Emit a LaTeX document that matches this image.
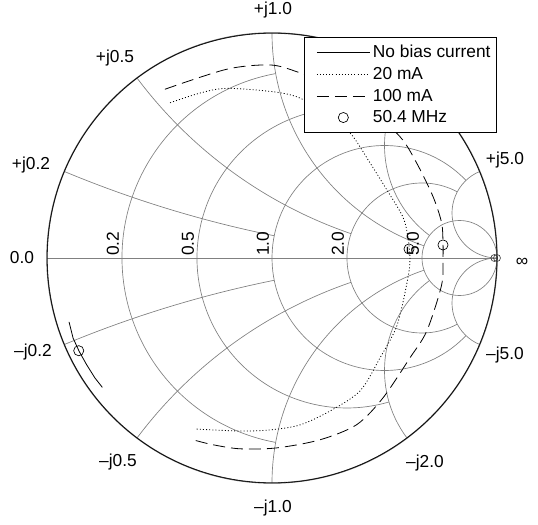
\documentclass[border=0pt]{standalone}
\usepackage{pgfplots}
\pgfplotsset{compat=1.18}
\usepgfplotslibrary{smithchart}
\usepackage{fontspec}
\setmainfont{Liberation Sans}
\pgfplotsset{
  lineleg/.style={legend image code/.code={\path (0cm,0cm); \draw[##1] (0.25cm,0cm) -- (1.65cm,0cm);}},
  markleg/.style={legend image code/.code={\path (0cm,0cm) (1.65cm,0cm); \draw[mark repeat=2,mark phase=2,##1] plot coordinates {(0.25cm,0cm) (0.95cm,0cm) (1.65cm,0cm)};}},
}
\begin{document}
\begin{tikzpicture}[lab/.style={font=\fontsize{13}{15}\selectfont, inner sep=0pt}]
% Smith chart grid (Gamma plane, unit = chart radius)
\begin{scope}[x=168.75pt, y=168.75pt, gray, line width=0.5pt]
  % resistance circles (truncated)
  \draw (0.0164,0.8197) arc[start angle=100.39, end angle=259.61, radius=140.625pt];
  \draw (0.52,0.64) arc[start angle=73.74, end angle=286.26, radius=112.5pt];
  \draw (0.8621,0.3448) arc[start angle=43.60, end angle=316.40, radius=84.375pt];
  \draw (0.8235,0.2941) arc[start angle=61.93, end angle=298.07, radius=56.25pt];
  \draw (0.8333,0) circle[radius=28.125pt];
  % reactance arcs, positive
  \draw (-0.9231,0.3846) arc[start angle=247.38, end angle=258.58, radius=843.75pt];
  \draw (-0.6,0.8) arc[start angle=216.87, end angle=251.08, radius=337.5pt];
  \draw (0,1) arc[start angle=180, end angle=251.08, radius=168.75pt];
  \draw (0.6,0.8) arc[start angle=143.13, end angle=233.13, radius=84.375pt];
  \draw (0.9231,0.3846) arc[start angle=112.62, end angle=270, radius=33.75pt];
  % reactance arcs, negative
  \draw (-0.9231,-0.3846) arc[start angle=-247.38, end angle=-258.58, radius=843.75pt];
  \draw (-0.6,-0.8) arc[start angle=-216.87, end angle=-251.08, radius=337.5pt];
  \draw (0,-1) arc[start angle=-180, end angle=-251.08, radius=168.75pt];
  \draw (0.6,-0.8) arc[start angle=-143.13, end angle=-233.13, radius=84.375pt];
  \draw (0.9231,-0.3846) arc[start angle=-112.62, end angle=-270, radius=33.75pt];
  % real axis
  \draw (-1,0) -- (1,0);
  % outer circle
  \draw[black!65, line width=1pt] (0,0) circle[radius=168.75pt];
\end{scope}
% resistance labels
\node[lab, rotate=90, anchor=south west] at (-114.5pt,1.5pt) {0.2};
\node[lab, rotate=90, anchor=south west] at (-58.25pt,1.5pt) {0.5};
\node[lab, rotate=90, anchor=south west] at (-2pt,1.5pt) {1.0};
\node[lab, rotate=90, anchor=south west] at (54.25pt,1.5pt) {2.0};
\node[lab, rotate=90, anchor=south west] at (110.5pt,1.5pt) {5.0};
% reactance labels
\node[lab] at (0.75pt,186pt) {+j1.0};
\node[lab] at (0.75pt,-187.5pt) {--j1.0};
\node[lab] at (-117.75pt,150pt) {+j0.5};
\node[lab] at (-115.5pt,-153pt) {--j0.5};
\node[lab] at (-180.75pt,69.75pt) {+j0.2};
\node[lab] at (-179.25pt,-70.5pt) {--j0.2};
\node[lab] at (-187.5pt,0pt) {0.0};
\node[lab] at (174.75pt,73.5pt) {+j5.0};
\node[lab] at (174.75pt,-72.75pt) {--j5.0};
\node[lab] at (114.75pt,-153.75pt) {--j2.0};
\node[lab] at (187.5pt,-3pt) {∞};
\begin{smithchart}[
  at={(0,0)}, anchor=center,
  width=337.5pt,
  scale only axis,
  grid=none,
  xtick=\empty,
  ytick=\empty,
  axis line style={draw=none},
  legend style={at={(axis description cs:0.998,0.991)}, anchor=north east,
    font=\fontsize{13}{15}\selectfont, draw=black, fill=white,
    inner xsep=2pt, inner ysep=4pt, row sep=1.6pt},
  legend cell align=left,
]
\addplot[is smithchart cs, black, line width=0.6pt, lineleg] coordinates {
(-0.902,-0.284) (-0.884,-0.356) (-0.857,-0.415) (-0.824,-0.474) (-0.787,-0.533) (-0.754,-0.575)};
\addlegendentry{No bias current}
\addplot[is smithchart cs, black, line width=0.6pt, dash pattern=on 0.75pt off 1.6pt, smooth, lineleg] coordinates {
(-0.453,0.690) (-0.320,0.733) (-0.201,0.754) (0.013,0.738) (0.124,0.711) (0.236,0.644)
(0.347,0.556) (0.436,0.422) (0.511,0.302) (0.582,0.182) (0.604,0.093) (0.613,0)
(0.604,-0.089) (0.556,-0.298) (0.480,-0.444) (0.391,-0.591) (0.258,-0.680) (0.124,-0.742)
(-0.009,-0.764) (-0.142,-0.769) (-0.342,-0.760)};
\addlegendentry{20 mA}
\addplot[is smithchart cs, black, line width=0.6pt, dash pattern=on 9pt off 4.5pt, smooth, lineleg] coordinates {
(-0.476,0.750) (-0.201,0.839) (-0.009,0.858) (0.110,0.828) (0.258,0.769) (0.413,0.680)
(0.569,0.539) (0.643,0.422) (0.716,0.272) (0.754,0.156) (0.760,0.067) (0.760,0)
(0.754,-0.119) (0.688,-0.324) (0.613,-0.444) (0.493,-0.622) (0.376,-0.741) (0.213,-0.808)
(0.021,-0.844) (-0.142,-0.848) (-0.262,-0.830) (-0.351,-0.808)};
\addlegendentry{100 mA}
\addplot[is smithchart cs, only marks, mark=o, mark size=3.8pt, black, line width=0.5pt, markleg] coordinates {
(-0.859,-0.412) (0.609,0.040) (0.760,0.058)};
\addlegendentry{50.4 MHz}
\addplot[is smithchart cs, only marks, mark=o, mark size=2.6pt, black!80, line width=0.45pt, forget plot] coordinates {
(0.988,0) (1.0,0)};
\end{smithchart}
\path (-204pt,-199.5pt) rectangle (199.5pt,193.5pt);
\end{tikzpicture}
\end{document}
